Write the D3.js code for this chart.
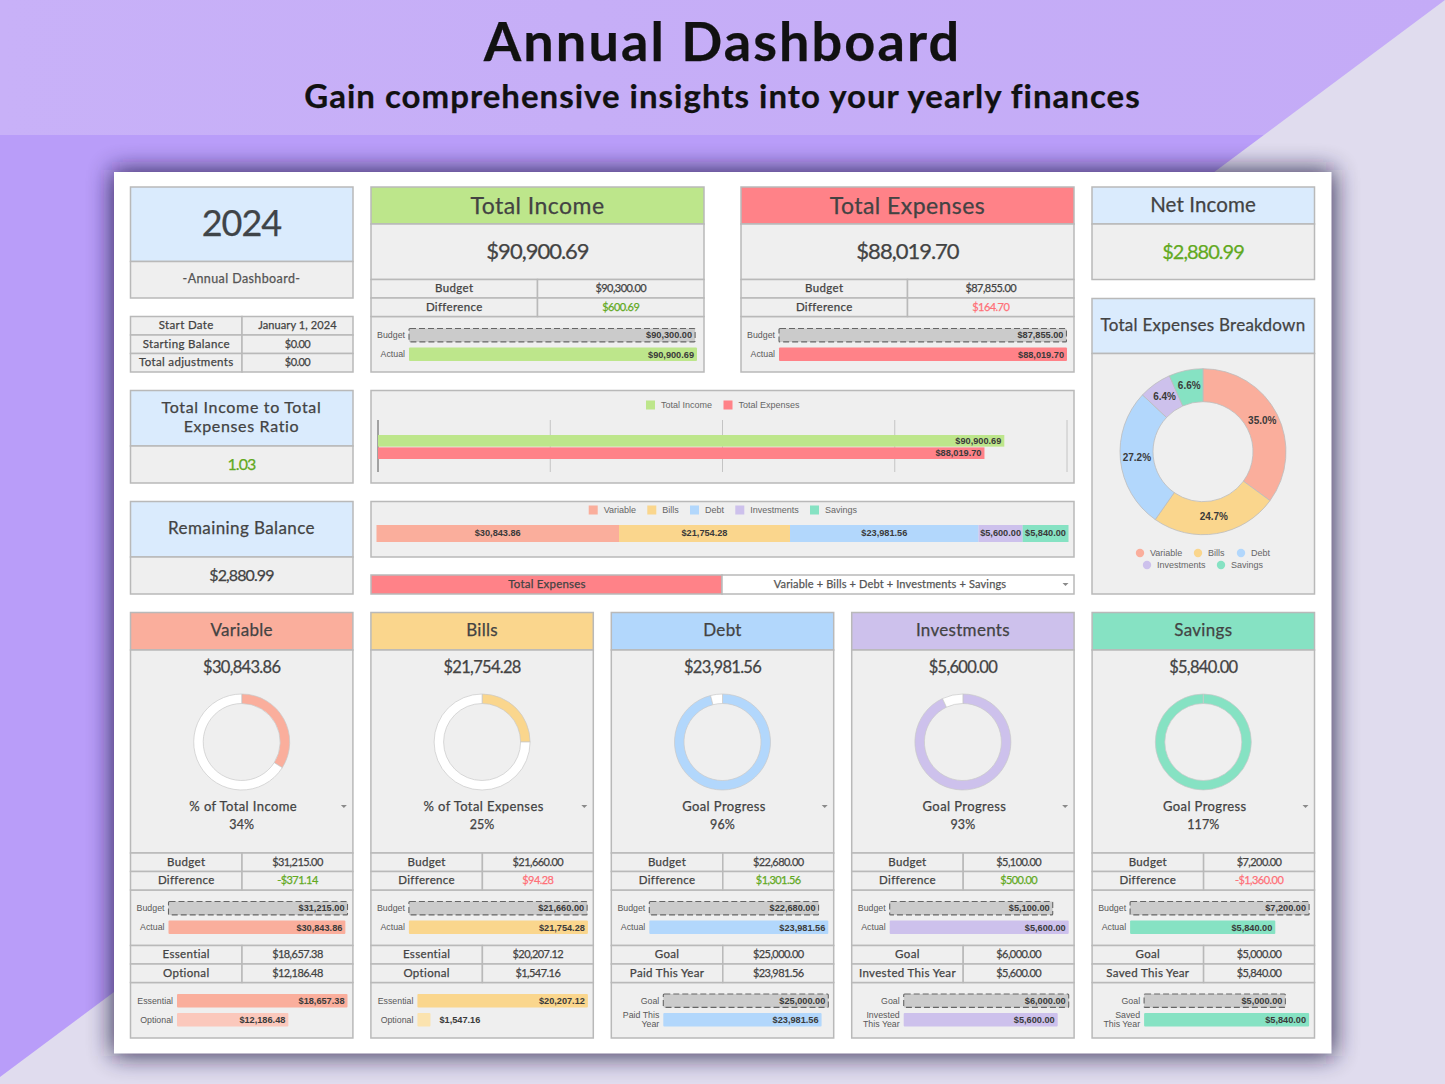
<!DOCTYPE html>
<html>
<head>
<meta charset="utf-8">
<title>Annual Dashboard</title>
<script src="https://cdn.jsdelivr.net/npm/d3@7"></script>
<style>
  html, body { margin: 0; padding: 0; background: #E0DCEE; }
  svg { display: block; }
</style>
</head>
<body>
<div id="dashboard"></div>
<script>
// Values
const CATEGORIES = ["Variable", "Bills", "Debt", "Investments", "Savings"];
const CATEGORY_COLORS = ["#FAAE9C", "#FAD68D", "#B2D7FC", "#CDC1EC", "#86E2C3"];
const CATEGORY_TINTS = ["#FBC8BC", "#FBE3AF", "#CFE5FC", "#DDD5F2", "#AEEBD6"];
const ACTUALS = [30843.86, 21754.28, 23981.56, 5600, 5840];
const BUDGETS = [31215, 21660, 22680, 5100, 7200];
const DIFFERENCES = [-371.14, 94.28, 1301.56, 500, -1360];
const DIFFERENCE_GOOD = [true, false, true, true, false];
const GAUGE_LABELS = ["% of Total Income", "% of Total Expenses", "Goal Progress", "Goal Progress", "Goal Progress"];
const GAUGE_PERCENT = [34, 25, 96, 93, 117];
const LOWER_LABELS_A = ["Essential", "Essential", "Goal", "Goal", "Goal"];
const LOWER_LABELS_B = ["Optional", "Optional", "Paid This Year", "Invested This Year", "Saved This Year"];
const LOWER_VALUES_A = [18657.38, 20207.12, 25000, 6000, 5000];
const LOWER_VALUES_B = [12186.48, 1547.16, 23981.56, 5600, 5840];
const LOWER_CHART_LINES = [["Optional"], ["Optional"], ["Paid This", "Year"], ["Invested", "This Year"], ["Saved", "This Year"]];

const INCOME_TOTAL = 90900.69;
const INCOME_BUDGET = 90300;
const INCOME_DIFF = 600.69;
const EXPENSE_TOTAL = 88019.70;
const EXPENSE_BUDGET = 87855;
const EXPENSE_DIFF = 164.70;
const NET_INCOME = 2880.99;
const RATIO = "1.03";
const REMAINING = 2880.99;
const COMPARE_NAMES = ["Total Income", "Total Expenses"];
const COMPARE_VALUES = [INCOME_TOTAL, EXPENSE_TOTAL];
const COMPARE_TICKS = [0, 25000, 50000, 75000, 100000];
const INFO_LABELS = ["Start Date", "Starting Balance", "Total adjustments"];
const INFO_VALUES = ["January 1, 2024", "$0.00", "$0.00"];

// Frame and colours
const FRAME_WIDTH = 1445;
const FRAME_HEIGHT = 1084;
const BORDER = "#B9B9B9";
const BODY = "#EFEFEF";
const SKY = "#DAEBFD";
const GREEN = "#BDE68B";
const RED = "#FF8288";
const INK = "#434343";
const GREEN_TEXT = "#62A91E";
const RED_TEXT = "#FF7078";
const UI_FONT = "Lato, sans-serif";
const CHART_FONT = "'Liberation Sans', Arial, sans-serif";
const money = d3.format("$,.2f");
const signedMoney = (v) => (v < 0 ? "-" : "") + money(Math.abs(v));

const FRAME = d3.select("#dashboard")
                .append("svg")
                  .attr("width", FRAME_WIDTH)
                  .attr("height", FRAME_HEIGHT);

const defs = FRAME.append("defs");
defs.append("filter").attr("id", "panel-shadow")
      .attr("x", "-10%").attr("y", "-10%").attr("width", "120%").attr("height", "120%")
    .append("feGaussianBlur").attr("stdDeviation", 12);
const bandGradient = defs.append("linearGradient").attr("id", "band");
bandGradient.append("stop").attr("offset", "0%").attr("stop-color", "#C8B1F8");
bandGradient.append("stop").attr("offset", "40%").attr("stop-color", "#C6AEF7");
bandGradient.append("stop").attr("offset", "100%").attr("stop-color", "#C4ABF7");

// Writes one text label, UI text gets a hairline stroke to carry the weight of the original face
function put(parent, x, y, str, opts = {}) {
    const isUi = !opts.font;
    return parent.append("text")
        .attr("x", x)
        .attr("y", y)
        .attr("dy", "0.35em")
        .attr("text-anchor", opts.anchor || "middle")
        .attr("font-family", opts.font || UI_FONT)
        .attr("font-size", opts.size || 11)
        .attr("font-weight", opts.weight || 400)
        .attr("letter-spacing", opts.spacing || 0)
        .attr("fill", opts.color || INK)
        .attr("stroke", isUi ? (opts.color || INK) : "none")
        .attr("stroke-width", isUi ? 0.25 : 0)
        .text(str);
}

// Draws a bordered rectangle
function cell(parent, x0, y0, x1, y1, fill) {
    return parent.append("rect")
        .attr("x", x0)
        .attr("y", y0)
        .attr("width", x1 - x0)
        .attr("height", y1 - y0)
        .attr("fill", fill)
        .attr("stroke", BORDER)
        .attr("stroke-width", 1.5);
}

// Draws two side by side table rows, values can carry their own colour
function tableRows(parent, x0, xMid, x1, yTop, rowH, rows) {
    rows.forEach((row, i) => {
        const y0 = yTop + i * rowH;
        cell(parent, x0, y0, xMid, y0 + rowH, BODY);
        cell(parent, xMid, y0, x1, y0 + rowH, BODY);
        const yText = y0 + rowH / 2 - 0.5;
        put(parent, (x0 + xMid) / 2, yText, row[0], {size: 11.5, spacing: 0.35});
        const isMoney = row[1].includes("$");
        put(parent, (xMid + x1) / 2, yText, row[1], {size: 11, spacing: isMoney ? -0.55 : 0.1, color: row[2] || INK});
    });
}

// Draws a little dropdown arrow
function arrow(parent, x, y) {
    parent.append("path")
        .attr("d", "M-3,-1.5 L3,-1.5 L0,1.5 Z")
        .attr("transform", "translate(" + x + "," + y + ")")
        .attr("fill", "#8A8A8A");
}

// Draws a two bar chart inside a box, from its own linear scale
function miniChart(parent, left, right, top, bars) {
    const X_SCALE = d3.scaleLinear()
                      .domain([0, d3.max(bars, (d) => d.value)])
                      .range([left, right]);
    const Y_SCALE = d3.scaleBand()
                      .domain(bars.map((d, i) => i))
                      .range([top, top + 32.5])
                      .paddingInner(0.3)
                      .paddingOuter(0);

    const marks = parent.append("g");
    marks.selectAll("rect")
        .data(bars)
        .enter()
        .append("rect")
          .attr("x", X_SCALE(0))
          .attr("y", (d, i) => Y_SCALE(i))
          .attr("width", (d) => X_SCALE(d.value) - X_SCALE(0))
          .attr("height", Y_SCALE.bandwidth())
          .attr("rx", 1)
          .attr("fill", (d) => d.dashed ? "#CBCBCB" : d.color)
          .attr("stroke", (d) => d.dashed ? "#666666" : "none")
          .attr("stroke-width", 1.1)
          .attr("stroke-dasharray", (d) => d.dashed ? "6,3" : null);

    bars.forEach((d, i) => {
        const yMid = Y_SCALE(i) + Y_SCALE.bandwidth() / 2;
        const lines = d.lines || [d.name];
        lines.forEach((line, k) => {
            put(parent, left - 4, yMid + (k - (lines.length - 1) / 2) * 9, line,
                {anchor: "end", font: CHART_FONT, size: 8.8, color: "#595959"});
        });
        const end = X_SCALE(d.value);
        if (end - left < 55) {
            put(parent, end + 9, yMid, money(d.value), {anchor: "start", font: CHART_FONT, size: 9.2, weight: 700, color: "#3A3A3A"});
        } else {
            put(parent, end - 3, yMid, money(d.value), {anchor: "end", font: CHART_FONT, size: 9.2, weight: 700, color: "#3A3A3A"});
        }
    });
}

// Draws the square legend of a chart
function squareLegend(parent, y, names, colors, squareXs) {
    names.forEach((name, i) => {
        parent.append("rect")
            .attr("x", squareXs[i])
            .attr("y", y - 4.5)
            .attr("width", 9)
            .attr("height", 9)
            .attr("fill", colors[i]);
        put(parent, squareXs[i] + 15, y, name, {anchor: "start", font: CHART_FONT, size: 9, color: "#666666"});
    });
}

// Background
FRAME.append("rect").attr("width", FRAME_WIDTH).attr("height", FRAME_HEIGHT).attr("fill", "#B99DF9");
FRAME.append("rect").attr("width", FRAME_WIDTH).attr("height", 135).attr("fill", "url(#band)");
FRAME.append("path").attr("d", "M1445,0 L1445,1084 L0,1084 L0,1077 Z").attr("fill", "#E0DCEE");

FRAME.append("rect")
    .attr("x", 112).attr("y", 170).attr("width", 1222).attr("height", 886)
    .attr("fill", "#1D1240").attr("opacity", 0.85)
    .attr("filter", "url(#panel-shadow)");
FRAME.append("rect")
    .attr("x", 114).attr("y", 172).attr("width", 1217.5).attr("height", 881.5)
    .attr("fill", "#FFFFFF");

// Heading
put(FRAME, 722.5, 42, "Annual Dashboard", {size: 54, weight: 700, color: "#111111", spacing: 2.1});
put(FRAME, 722.5, 96, "Gain comprehensive insights into your yearly finances", {size: 33, weight: 700, color: "#111111", spacing: 1});

const TOP = FRAME.append("g");

// Year box and the info table
cell(TOP, 130.5, 187, 353, 261.5, SKY);
cell(TOP, 130.5, 261.5, 353, 298, BODY);
put(TOP, 241.5, 223.5, "2024", {size: 36, spacing: -1, color: "#3F4448"});
put(TOP, 241.5, 279, "-Annual Dashboard-", {size: 12.5, spacing: 0.4, color: "#555555"});
tableRows(TOP, 130.5, 242, 353, 316.5, 18.5, INFO_LABELS.map((d, i) => [d, INFO_VALUES[i]]));

// Total income and total expenses boxes
function totalBox(x0, title, color, total, budget, diff, diffColor) {
    const x1 = x0 + 333;
    const xMid = x0 + 166.5;
    cell(TOP, x0, 187, x1, 224, color);
    cell(TOP, x0, 224, x1, 279.5, BODY);
    cell(TOP, x0, 316.5, x1, 372, BODY);
    tableRows(TOP, x0, xMid, x1, 279.5, 18.5, [["Budget", money(budget)], ["Difference", money(diff), diffColor]]);
    put(TOP, (x0 + x1) / 2, 205.5, title, {size: 23, spacing: 0.45});
    put(TOP, (x0 + x1) / 2, 251.5, money(total), {size: 22, spacing: -1});
    miniChart(TOP, x0 + 38, x1 - 7, 328.5, [
        {name: "Budget", value: budget, dashed: true},
        {name: "Actual", value: total, color: color}
    ]);
}
totalBox(371, COMPARE_NAMES[0], GREEN, INCOME_TOTAL, INCOME_BUDGET, INCOME_DIFF, GREEN_TEXT);
totalBox(741, COMPARE_NAMES[1], RED, EXPENSE_TOTAL, EXPENSE_BUDGET, EXPENSE_DIFF, RED_TEXT);

// Net income
cell(TOP, 1092, 187, 1314.5, 224, SKY);
cell(TOP, 1092, 224, 1314.5, 279.5, BODY);
put(TOP, 1203, 205, "Net Income", {size: 20.5, spacing: 0.1});
put(TOP, 1203, 251.5, money(NET_INCOME), {size: 20, spacing: -1, color: GREEN_TEXT});

// Ratio and remaining balance
cell(TOP, 130.5, 390.5, 353, 446, SKY);
cell(TOP, 130.5, 446, 353, 483, BODY);
put(TOP, 241.5, 407.7, "Total Income to Total", {size: 16, spacing: 0.67});
put(TOP, 241.5, 426.7, "Expenses Ratio", {size: 16, spacing: 0.67});
put(TOP, 241.5, 464, RATIO, {size: 16, spacing: -0.9, color: GREEN_TEXT});
cell(TOP, 130.5, 501.5, 353, 557, SKY);
cell(TOP, 130.5, 557, 353, 594, BODY);
put(TOP, 241.5, 528.5, "Remaining Balance", {size: 17, spacing: 0.4});
put(TOP, 241.5, 575, money(REMAINING), {size: 16, spacing: -0.9});

// Income against expenses chart
cell(TOP, 371, 390.5, 1074, 483, BODY);
squareLegend(TOP, 405, COMPARE_NAMES, [GREEN, RED], [646, 723.5]);

const COMPARE_X = d3.scaleLinear().domain([0, 100000]).range([378, 1067]);
const COMPARE_Y = d3.scaleBand().domain(COMPARE_NAMES).range([435, 459]).paddingInner(0.06);

TOP.selectAll("compareGrid")
    .data(COMPARE_TICKS)
    .enter()
    .append("line")
      .attr("x1", (d) => COMPARE_X(d))
      .attr("x2", (d) => COMPARE_X(d))
      .attr("y1", 420)
      .attr("y2", 472)
      .attr("stroke", (d) => d === 0 ? "#555555" : "#C4C4C4")
      .attr("stroke-width", 1);

TOP.selectAll("compareBars")
    .data(COMPARE_NAMES)
    .enter()
    .append("rect")
      .attr("x", COMPARE_X(0))
      .attr("y", (d) => COMPARE_Y(d))
      .attr("width", (d, i) => COMPARE_X(COMPARE_VALUES[i]) - COMPARE_X(0))
      .attr("height", COMPARE_Y.bandwidth())
      .attr("fill", (d, i) => [GREEN, RED][i]);

COMPARE_NAMES.forEach((d, i) => {
    put(TOP, COMPARE_X(COMPARE_VALUES[i]) - 3, COMPARE_Y(d) + COMPARE_Y.bandwidth() / 2, money(COMPARE_VALUES[i]),
        {anchor: "end", font: CHART_FONT, size: 9.2, weight: 700, color: "#3A3A3A"});
});

// Stacked breakdown chart
cell(TOP, 371, 501.5, 1074, 557, BODY);
squareLegend(TOP, 510, CATEGORIES, CATEGORY_COLORS, [588.7, 647.3, 690, 735.3, 810]);

const STACK_X = d3.scaleLinear().domain([0, d3.sum(ACTUALS)]).range([376.5, 1068.5]);
const stackStarts = d3.cumsum([0].concat(ACTUALS));

TOP.selectAll("stackBars")
    .data(ACTUALS)
    .enter()
    .append("rect")
      .attr("x", (d, i) => STACK_X(stackStarts[i]))
      .attr("y", 525)
      .attr("width", (d) => STACK_X(d) - STACK_X(0))
      .attr("height", 17)
      .attr("fill", (d, i) => CATEGORY_COLORS[i]);

ACTUALS.forEach((d, i) => {
    put(TOP, STACK_X(stackStarts[i] + d / 2), 533, money(d), {font: CHART_FONT, size: 9.2, weight: 700, color: "#3A3A3A"});
});

// Dropdown row
cell(TOP, 371, 575, 722, 594, RED);
cell(TOP, 722, 575, 1074, 594, "#FFFFFF");
put(TOP, 547, 584, "Total Expenses", {size: 11.5, spacing: 0.2});
put(TOP, 890, 584, "Variable + Bills + Debt + Investments + Savings", {size: 11, spacing: 0.15, color: "#555555"});
arrow(TOP, 1065.5, 584.5);

// Total expenses breakdown donut
cell(TOP, 1092, 298.5, 1314.5, 353.5, SKY);
cell(TOP, 1092, 353.5, 1314.5, 594, BODY);
put(TOP, 1203, 325.5, "Total Expenses Breakdown", {size: 17, spacing: 0.25});

const PIE = d3.pie().sort(null);
const BREAKDOWN_ARC = d3.arc().innerRadius(50).outerRadius(83);
const breakdownTotal = d3.sum(ACTUALS);
const breakdown = TOP.append("g").attr("transform", "translate(1203,451.7)");

breakdown.selectAll("path")
    .data(PIE(ACTUALS))
    .enter()
    .append("path")
      .attr("d", BREAKDOWN_ARC)
      .attr("fill", (d, i) => CATEGORY_COLORS[i])
      .attr("stroke", "#BDBDBD")
      .attr("stroke-width", 0.8);

PIE(ACTUALS).forEach((d) => {
    const c = BREAKDOWN_ARC.centroid(d);
    put(breakdown, c[0], c[1] - 0.8, d3.format(".1%")(d.value / breakdownTotal), {font: CHART_FONT, size: 10, weight: 700, color: "#3A3A3A"});
});

const LEGEND_X = [1140, 1198, 1241, 1147, 1221];
const LEGEND_Y = [553, 553, 553, 565, 565];
CATEGORIES.forEach((name, i) => {
    TOP.append("circle")
        .attr("cx", LEGEND_X[i])
        .attr("cy", LEGEND_Y[i])
        .attr("r", 4.2)
        .attr("fill", CATEGORY_COLORS[i]);
    put(TOP, LEGEND_X[i] + 10, LEGEND_Y[i], name, {anchor: "start", font: CHART_FONT, size: 9, color: "#666666"});
});

// The five category cards
const CARD_X = d3.scaleBand()
                 .domain(CATEGORIES)
                 .range([130.5, 1314.5])
                 .paddingInner(18 / 240.4);
const GAUGE_ARC = d3.arc().innerRadius(38.5).outerRadius(48);

CATEGORIES.forEach((name, i) => {
    const card = FRAME.append("g");
    const x0 = CARD_X(name);
    const x1 = x0 + CARD_X.bandwidth();
    const xMid = x0 + 111.5;
    const center = (x0 + x1) / 2;
    const color = CATEGORY_COLORS[i];

    cell(card, x0, 612.5, x1, 650, color);
    cell(card, x0, 650, x1, 853, BODY);
    cell(card, x0, 890, x1, 945.5, BODY);
    cell(card, x0, 982.5, x1, 1038, BODY);

    put(card, center, 630.5, name, {size: 17, spacing: 0.3});
    put(card, center, 667.5, money(ACTUALS[i]), {size: 16.5, spacing: -0.7});

    // Progress ring, starts at the top and fills clockwise
    const share = Math.min(GAUGE_PERCENT[i], 100);
    const ring = card.append("g").attr("transform", "translate(" + center + ",742)");
    ring.selectAll("path")
        .data(PIE([share, 100 - share]))
        .enter()
        .append("path")
          .attr("d", GAUGE_ARC)
          .attr("fill", (d, k) => k === 0 ? color : "#FFFFFF")
          .attr("stroke", "#C8C8C8")
          .attr("stroke-width", 0.7);

    put(card, center + 1.5, 806, GAUGE_LABELS[i], {size: 13, spacing: 0.4});
    put(card, center, 825, GAUGE_PERCENT[i] + "%", {size: 12.5, spacing: 0.1});
    arrow(card, x1 - 9, 806.5);

    tableRows(card, x0, xMid, x1, 853, 18.5, [
        ["Budget", money(BUDGETS[i])],
        ["Difference", signedMoney(DIFFERENCES[i]), DIFFERENCE_GOOD[i] ? GREEN_TEXT : RED_TEXT]
    ]);
    tableRows(card, x0, xMid, x1, 945.5, 18.5, [
        [LOWER_LABELS_A[i], money(LOWER_VALUES_A[i])],
        [LOWER_LABELS_B[i], money(LOWER_VALUES_B[i])]
    ]);

    miniChart(card, x0 + 38, x0 + 217, 901.5, [
        {name: "Budget", value: BUDGETS[i], dashed: true},
        {name: "Actual", value: ACTUALS[i], color: color}
    ]);

    const isGoal = LOWER_LABELS_A[i] === "Goal";
    miniChart(card, x0 + (isGoal ? 52 : 46.5), x0 + 217, 994, [
        {name: LOWER_LABELS_A[i], value: LOWER_VALUES_A[i], dashed: isGoal, color: color},
        {name: LOWER_LABELS_B[i], lines: LOWER_CHART_LINES[i], value: LOWER_VALUES_B[i], color: isGoal ? color : CATEGORY_TINTS[i]}
    ]);
});
</script>
</body>
</html>
